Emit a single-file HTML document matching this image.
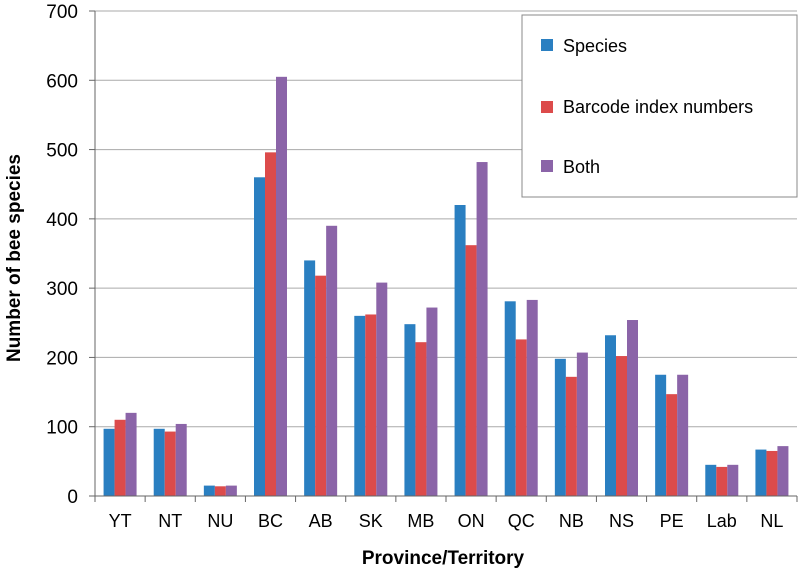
<!DOCTYPE html>
<html><head><meta charset="utf-8"><style>
body{margin:0;background:#fff}
svg{display:block;font-family:"Liberation Sans",sans-serif}
</style></head><body>
<svg id="chart" width="800" height="574">
<g id="grid"></g>
<g id="bars"></g>
<g id="axes"></g>
<text x="20" y="258" transform="rotate(-90 20 258)" text-anchor="middle" font-size="19" font-weight="bold">Number of bee species</text>
<text x="443" y="564" text-anchor="middle" font-size="19" font-weight="bold">Province/Territory</text>
<g>
<rect x="522" y="15" width="275" height="182" fill="#fff" stroke="#888"/>
<rect x="541" y="39" width="12" height="12" fill="#2a7fc1"/>
<text x="563" y="52" font-size="18">Species</text>
<rect x="541" y="101" width="12" height="12" fill="#dc4b4b"/>
<text x="563" y="113" font-size="18">Barcode index numbers</text>
<rect x="541" y="160" width="12" height="12" fill="#8b64a8"/>
<text x="563" y="173" font-size="18">Both</text>
</g>
</svg>
<script>
const categories=["YT","NT","NU","BC","AB","SK","MB","ON","QC","NB","NS","PE","Lab","NL"];
const species=[97,97,15,460,340,260,248,420,281,198,232,175,45,67];
const bins=[110,93,14,496,318,262,222,362,226,172,202,147,42,65];
const both=[120,104,15,605,390,308,272,482,283,207,254,175,45,72];
const yTicks=[0,100,200,300,400,500,600,700];
const NS='http://www.w3.org/2000/svg';
const x0=95,x1=797,y0=496,yTop=11;
const bandW=(x1-x0)/categories.length;
const yS=v=>y0-(v/700)*(y0-yTop);
function mk(t,a,p){const e=document.createElementNS(NS,t);for(const k in a)e.setAttribute(k,a[k]);p.appendChild(e);return e;}
const grid=document.getElementById('grid'),bars=document.getElementById('bars'),axes=document.getElementById('axes');
yTicks.forEach(v=>{
 const y=yS(v);
 if(v>0){const g=mk('line',{x1:x0,x2:x1,y1:y,y2:y,stroke:'#aaa','stroke-width':1},grid);
 
 }
 const t=mk('line',{x1:x0-6,x2:x0,y1:y,y2:y,stroke:'#666'},axes);
 
 
 const l=mk('text',{x:x0-17,y:y+7,'text-anchor':'end','font-size':19},axes);
 l.textContent=v;
 
 
});
const series=[[species,'#2a7fc1','species'],[bins,'#dc4b4b','bins'],[both,'#8b64a8','both']];
const bw=11;
categories.forEach((c,i)=>{
 const bx=x0+i*bandW+(bandW-3*bw)/2;
 series.forEach((s,j)=>{
  const v=s[0][i];
  const r=mk('rect',{x:bx+j*bw,y:yS(v),width:bw,height:y0-yS(v),fill:s[1]},bars);
  
  
 });
 const t=mk('line',{x1:x0+i*bandW,x2:x0+i*bandW,y1:y0,y2:y0+6,stroke:'#666'},axes);
 
 
 const l=mk('text',{x:x0+(i+0.5)*bandW,y:527,'text-anchor':'middle','font-size':18},axes);
 l.textContent=c;
 
 
});
const te=mk('line',{x1:x1,x2:x1,y1:y0,y2:y0+6,stroke:'#666'},axes);


const ya=mk('line',{x1:x0,x2:x0,y1:yTop,y2:y0,stroke:'#666'},axes);


const xa=mk('line',{x1:x0,x2:x1,y1:y0,y2:y0,stroke:'#666'},axes);


</script>
</body></html>
